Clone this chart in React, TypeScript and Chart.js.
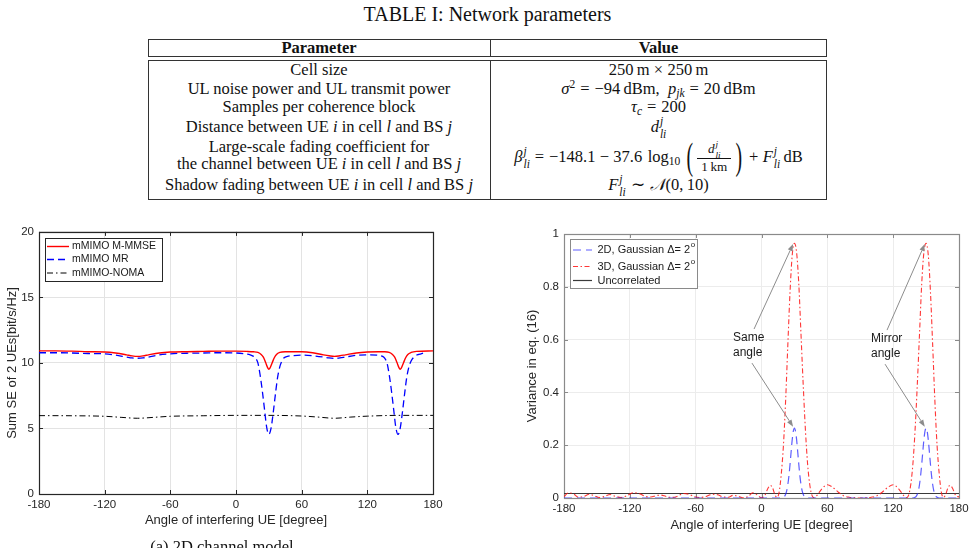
import React, { useEffect, useRef } from 'react';
import { Chart, registerables } from 'chart.js';

Chart.register(...registerables);

const SANS = '"Liberation Sans", Arial, Helvetica, sans-serif';
const SERIF = '"Liberation Serif", "Times New Roman", Times, serif';

// ---------- (a) Sum SE of 2 UEs versus angle of the interfering UE ----------
const mmseAngles = [-180, -165, -150, -135, -120, -110, -100, -95, -90, -85, -80, -70, -60, -45, -30, -15, 0, 10, 16, 20, 23, 25, 27, 29, 30, 31, 33, 35, 37, 40, 45, 60, 70, 80, 85, 90, 95, 100, 110, 120, 130, 136, 140, 143, 145, 147, 149, 150, 151, 153, 155, 157, 160, 165, 180];
const mmseSE = [10.92, 10.92, 10.9, 10.86, 10.84, 10.76, 10.62, 10.54, 10.5, 10.54, 10.62, 10.76, 10.83, 10.86, 10.88, 10.9, 10.9, 10.88, 10.85, 10.8, 10.65, 10.45, 10.05, 9.62, 9.52, 9.6, 10.0, 10.4, 10.65, 10.8, 10.85, 10.85, 10.78, 10.62, 10.55, 10.5, 10.55, 10.62, 10.76, 10.83, 10.85, 10.85, 10.8, 10.65, 10.45, 10.05, 9.62, 9.52, 9.6, 10.0, 10.4, 10.65, 10.8, 10.88, 10.92];

const mrAngles = [-180, -165, -150, -135, -120, -110, -100, -95, -90, -85, -80, -70, -60, -45, -30, -15, 0, 8, 13, 16, 18, 20, 22, 24, 26, 28, 30, 32, 34, 36, 38, 40, 42, 44, 47, 52, 60, 70, 80, 85, 90, 95, 100, 110, 120, 130, 134, 136, 138, 140, 142, 144, 146, 148, 150, 152, 154, 156, 158, 160, 162, 164, 167, 172, 180];
const mrSE = [10.78, 10.78, 10.76, 10.72, 10.7, 10.6, 10.45, 10.38, 10.36, 10.38, 10.45, 10.62, 10.7, 10.74, 10.76, 10.78, 10.76, 10.7, 10.62, 10.5, 10.35, 10.0, 9.1, 7.9, 6.5, 5.1, 4.55, 5.0, 6.2, 7.6, 8.9, 9.7, 10.15, 10.4, 10.5, 10.56, 10.6, 10.55, 10.45, 10.38, 10.35, 10.38, 10.45, 10.58, 10.62, 10.58, 10.5, 10.35, 10.0, 9.1, 7.9, 6.5, 5.1, 4.55, 5.0, 6.2, 7.6, 8.9, 9.7, 10.15, 10.4, 10.55, 10.65, 10.78];

const nomaAngles = [-180, -150, -120, -105, -90, -75, -60, -30, 0, 30, 60, 75, 90, 105, 120, 150, 180];
const nomaSE = [5.98, 5.97, 5.93, 5.85, 5.78, 5.85, 5.93, 5.97, 6.0, 6.0, 5.95, 5.87, 5.78, 5.87, 5.94, 6.0, 6.0];

const seYTicks = [0, 5, 10, 15, 20];
const angleTicks = [-180, -120, -60, 0, 60, 120, 180];

// ---------- (b) Variance in eq. (16) versus angle of the interfering UE ----------
const var2DAngles = [-180, 18, 20, 21, 22, 23, 24, 25, 26, 27, 28, 29, 30, 31, 32, 33, 34, 35, 36, 37, 38, 39, 40, 42, 138, 140, 141, 142, 143, 144, 145, 146, 147, 148, 149, 150, 151, 152, 153, 154, 155, 156, 157, 158, 159, 160, 162, 180];
const var2D = [0, 0, 0.003, 0.006, 0.014, 0.028, 0.051, 0.084, 0.127, 0.175, 0.221, 0.253, 0.265, 0.253, 0.221, 0.175, 0.127, 0.084, 0.051, 0.028, 0.014, 0.006, 0.003, 0, 0, 0.003, 0.006, 0.014, 0.028, 0.051, 0.084, 0.127, 0.175, 0.221, 0.253, 0.265, 0.253, 0.221, 0.175, 0.127, 0.084, 0.051, 0.028, 0.014, 0.006, 0.003, 0, 0];

const var3DAngles = [-180, -176, -171, -167, -162, -157, -152, -148, -143, -138, -133, -128, -123, -117, -111, -106, -101, -96, -92, -87, -82, -77, -71, -66, -61, -56, -51, -45, -40, -35, -30, -26, -21, -17, -12, -8, -4, 0, 3, 6, 8, 10, 12, 14, 16, 18, 20, 22, 24, 26, 28, 30, 32, 34, 36, 38, 40, 42, 44, 46, 48, 51, 55, 60, 65, 70, 75, 80, 85, 90, 95, 100, 105, 110, 115, 120, 125, 129, 132, 134, 136, 138, 140, 142, 144, 146, 148, 150, 152, 154, 156, 158, 160, 162, 164, 166, 168, 170, 172, 174, 177, 180];
const var3D = [0.006, 0.019, 0.015, 0.003, 0.006, 0.014, 0.008, 0.002, 0.006, 0.013, 0.006, 0.002, 0.008, 0.02, 0.016, 0.006, 0.004, 0.009, 0.011, 0.006, 0.002, 0.006, 0.017, 0.014, 0.005, 0.002, 0.005, 0.014, 0.012, 0.004, 0.003, 0.01, 0.006, 0.001, 0.006, 0.02, 0.012, 0.001, 0.01, 0.038, 0.048, 0.04, 0.015, 0.002, 0.02, 0.09, 0.2, 0.37, 0.58, 0.78, 0.92, 0.965, 0.93, 0.81, 0.62, 0.43, 0.26, 0.13, 0.05, 0.01, 0.001, 0.012, 0.035, 0.05, 0.04, 0.022, 0.008, 0.003, 0.001, 0.0, 0.001, 0.003, 0.008, 0.022, 0.04, 0.05, 0.035, 0.012, 0.001, 0.01, 0.05, 0.13, 0.26, 0.43, 0.62, 0.81, 0.93, 0.965, 0.92, 0.78, 0.58, 0.37, 0.2, 0.09, 0.02, 0.002, 0.015, 0.04, 0.048, 0.038, 0.01, 0.004];

const uncorrelatedAngles = [-180, 180];
const uncorrelated = [0.017, 0.017];

const varYTicks = [0, 0.2, 0.4, 0.6, 0.8, 1];

// Callout labels and arrows, in data coordinates
const calloutTexts = [
  { lines: ['Same', 'angle'], x: -26, y: 0.606 },
  { lines: ['Mirror', 'angle'], x: 99.8, y: 0.602 },
];
const calloutArrows = [
  { from: [-6.8, 0.64], to: [28.8, 0.962] },
  { from: [-8.7, 0.511], to: [28.8, 0.27] },
  { from: [114.4, 0.636], to: [148.8, 0.962] },
  { from: [112.6, 0.507], to: [148.8, 0.27] },
];

const pairs = (xs: number[], ys: number[]) => xs.map((x, i) => ({ x, y: ys[i] }));

type LegendSpec = {
  dx: number; dy: number; w: number; h: number;
  rows: number[]; lineX0: number; lineX1: number; textX: number;
  font: number; border: string; sups?: string[];
};

// Boxed legend drawn inside the plot area
function boxLegend(spec: LegendSpec) {
  return {
    id: 'boxLegend',
    afterDatasetsDraw(chart: any) {
      const { ctx, chartArea } = chart;
      const x0 = Math.round(chartArea.left + spec.dx);
      const y0 = Math.round(chartArea.top + spec.dy);
      ctx.save();
      ctx.fillStyle = '#ffffff';
      ctx.fillRect(x0, y0, spec.w, spec.h);
      ctx.strokeStyle = spec.border;
      ctx.lineWidth = 1;
      ctx.setLineDash([]);
      ctx.strokeRect(x0 + 0.5, y0 + 0.5, spec.w, spec.h);
      chart.data.datasets.forEach((ds: any, i: number) => {
        const y = y0 + spec.rows[i];
        ctx.strokeStyle = ds.borderColor;
        ctx.lineWidth = ds.borderWidth;
        ctx.setLineDash(ds.borderDash || []);
        ctx.beginPath();
        ctx.moveTo(x0 + spec.lineX0, y);
        ctx.lineTo(x0 + spec.lineX1, y);
        ctx.stroke();
        ctx.setLineDash([]);
        ctx.fillStyle = '#1a1a1a';
        ctx.font = `${spec.font}px ${SANS}`;
        ctx.textBaseline = 'middle';
        ctx.textAlign = 'left';
        ctx.fillText(ds.label, x0 + spec.textX, y);
        const sup = spec.sups && spec.sups[i];
        if (sup) {
          const w = ctx.measureText(ds.label).width;
          ctx.font = `${spec.font * 0.72}px ${SANS}`;
          ctx.fillText(sup, x0 + spec.textX + w + 0.5, y - 5);
        }
      });
      ctx.restore();
    },
  };
}

// Axes box with inward tick marks on all four sides
function axesFrame(color: string, tickLen: number) {
  return {
    id: 'axesFrame',
    beforeDatasetsDraw(chart: any) {
      const { ctx, chartArea: a, scales } = chart;
      ctx.save();
      ctx.strokeStyle = color;
      ctx.lineWidth = 1;
      ctx.setLineDash([]);
      ctx.beginPath();
      scales.x.ticks.forEach((t: any) => {
        const px = Math.round(scales.x.getPixelForValue(t.value)) + 0.5;
        ctx.moveTo(px, a.bottom);
        ctx.lineTo(px, a.bottom - tickLen);
        ctx.moveTo(px, a.top);
        ctx.lineTo(px, a.top + tickLen);
      });
      scales.y.ticks.forEach((t: any) => {
        const py = Math.round(scales.y.getPixelForValue(t.value)) + 0.5;
        ctx.moveTo(a.left, py);
        ctx.lineTo(a.left + tickLen, py);
        ctx.moveTo(a.right, py);
        ctx.lineTo(a.right - tickLen, py);
      });
      ctx.stroke();
      ctx.lineWidth = 1.2;
      ctx.strokeRect(Math.round(a.left) + 0.5, Math.round(a.top) + 0.5, Math.round(a.right - a.left), Math.round(a.bottom - a.top));
      ctx.restore();
    },
  };
}

// Text callouts with arrows pointing at the peaks
const callouts = {
  id: 'callouts',
  afterDatasetsDraw(chart: any) {
    const { ctx, scales } = chart;
    const X = (v: number) => scales.x.getPixelForValue(v);
    const Y = (v: number) => scales.y.getPixelForValue(v);
    ctx.save();
    ctx.fillStyle = '#1a1a1a';
    ctx.font = `12px ${SANS}`;
    ctx.textAlign = 'left';
    ctx.textBaseline = 'middle';
    calloutTexts.forEach((c) => {
      c.lines.forEach((ln, k) => ctx.fillText(ln, X(c.x), Y(c.y) + k * 15));
    });
    ctx.strokeStyle = '#8c8c8c';
    ctx.fillStyle = '#8c8c8c';
    ctx.lineWidth = 1;
    calloutArrows.forEach((ar) => {
      const x1 = X(ar.from[0]), y1 = Y(ar.from[1]);
      const x2 = X(ar.to[0]), y2 = Y(ar.to[1]);
      const ang = Math.atan2(y2 - y1, x2 - x1);
      const hl = 7, hw = 2.6;
      const bx = x2 - hl * Math.cos(ang), by = y2 - hl * Math.sin(ang);
      ctx.beginPath();
      ctx.moveTo(x1, y1);
      ctx.lineTo(bx, by);
      ctx.stroke();
      ctx.beginPath();
      ctx.moveTo(x2, y2);
      ctx.lineTo(bx + hw * Math.sin(ang), by - hw * Math.cos(ang));
      ctx.lineTo(bx - hw * Math.sin(ang), by + hw * Math.cos(ang));
      ctx.closePath();
      ctx.fill();
    });
    ctx.restore();
  },
};

const tickFont = { family: SANS, size: 11.5 };
const titleFont = { family: SANS, size: 13 };

function seChart(): any {
  return {
    type: 'line',
    data: {
      datasets: [
        { label: 'mMIMO M-MMSE', data: pairs(mmseAngles, mmseSE), borderColor: '#ff0000', borderWidth: 1.4, borderDash: [] },
        { label: 'mMIMO MR', data: pairs(mrAngles, mrSE), borderColor: '#0000ff', borderWidth: 1.3, borderDash: [7, 4] },
        { label: 'mMIMO-NOMA', data: pairs(nomaAngles, nomaSE), borderColor: '#000000', borderWidth: 1, borderDash: [6, 3, 1.5, 3] },
      ],
    },
    options: {
      responsive: false,
      animation: false,
      layout: { padding: { top: 11, right: 17, left: 0, bottom: 0 } },
      elements: { point: { radius: 0 }, line: { cubicInterpolationMode: 'monotone', fill: false } },
      plugins: { legend: { display: false }, tooltip: { enabled: false } },
      scales: {
        x: {
          type: 'linear', min: -180, max: 180,
          afterBuildTicks: (s: any) => { s.ticks = angleTicks.map((v) => ({ value: v })); },
          afterFit: (s: any) => { s.height = 46; },
          ticks: { color: '#262626', font: tickFont, padding: 4, maxRotation: 0, autoSkip: false },
          grid: { color: '#e3e3e3', drawTicks: false },
          border: { display: false },
          title: { display: true, text: 'Angle of interfering UE [degree]', color: '#262626', font: titleFont, padding: { top: 0, bottom: 12 } },
        },
        y: {
          type: 'linear', min: 0, max: 20,
          afterBuildTicks: (s: any) => { s.ticks = seYTicks.map((v) => ({ value: v })); },
          afterFit: (s: any) => { s.width = 39; },
          ticks: { color: '#262626', font: tickFont, padding: 5 },
          grid: { color: '#e3e3e3', drawTicks: false },
          border: { display: false },
          title: { display: true, text: 'Sum SE of 2 UEs[bit/s/Hz]', color: '#262626', font: titleFont, padding: { top: 5, bottom: 0 } },
        },
      },
    },
    plugins: [
      axesFrame('#262626', 4),
      boxLegend({ dx: 6, dy: 6, w: 117, h: 43, rows: [8.5, 21.5, 35], lineX0: 2, lineX1: 24, textX: 27, font: 10.5, border: '#262626' }),
    ],
  };
}

function varianceChart(): any {
  return {
    type: 'line',
    data: {
      datasets: [
        { label: '2D, Gaussian \u0394= 2', data: pairs(var2DAngles, var2D), borderColor: 'rgba(40,40,255,0.75)', borderWidth: 1.2, borderDash: [8, 5] },
        { label: '3D, Gaussian \u0394= 2', data: pairs(var3DAngles, var3D), borderColor: 'rgba(255,20,20,0.85)', borderWidth: 1.1, borderDash: [5, 2.5, 1.5, 2.5] },
        { label: 'Uncorrelated', data: pairs(uncorrelatedAngles, uncorrelated), borderColor: '#3a3a3a', borderWidth: 1.2, borderDash: [] },
      ],
    },
    options: {
      responsive: false,
      animation: false,
      layout: { padding: { top: 14, right: 16, left: 0, bottom: 0 } },
      elements: { point: { radius: 0 }, line: { cubicInterpolationMode: 'monotone', fill: false } },
      plugins: { legend: { display: false }, tooltip: { enabled: false } },
      scales: {
        x: {
          type: 'linear', min: -180, max: 180,
          afterBuildTicks: (s: any) => { s.ticks = angleTicks.map((v) => ({ value: v })); },
          afterFit: (s: any) => { s.height = 42; },
          ticks: { color: '#262626', font: tickFont, padding: 4, maxRotation: 0, autoSkip: false },
          grid: { color: '#ececec', drawTicks: false },
          border: { display: false },
          title: { display: true, text: 'Angle of interfering UE [degree]', color: '#262626', font: titleFont, padding: { top: 0, bottom: 7 } },
        },
        y: {
          type: 'linear', min: 0, max: 1,
          afterBuildTicks: (s: any) => { s.ticks = varYTicks.map((v) => ({ value: v })); },
          afterFit: (s: any) => { s.width = 64; },
          ticks: { color: '#262626', font: tickFont, padding: 5, callback: (v: any) => String(Math.round(v * 10) / 10) },
          grid: { color: '#ececec', drawTicks: false },
          border: { display: false },
          title: { display: true, text: 'Variance in eq. (16)', color: '#262626', font: titleFont, padding: { top: 25, bottom: 0 } },
        },
      },
    },
    plugins: [
      axesFrame('#8a8a8a', 4),
      callouts,
      boxLegend({ dx: 6, dy: 5, w: 127, h: 49, rows: [11, 27.5, 41.5], lineX0: 3, lineX1: 22, textX: 27.5, font: 11, border: '#8a8a8a', sups: ['o', 'o', ''] }),
    ],
  };
}

function ChartCanvas({ left, top, width, height, build }: { left: number; top: number; width: number; height: number; build: () => any }) {
  const ref = useRef<HTMLCanvasElement>(null);
  useEffect(() => {
    const chart = new Chart(ref.current as HTMLCanvasElement, build());
    return () => chart.destroy();
  }, []);
  return <canvas ref={ref} width={width} height={height} style={{ position: 'absolute', left, top, width, height }} />;
}

// ---------- Table I ----------
// Stacked superscript / subscript pair (e.g. the j and li of d^j_li)
function SS({ sup, sub }: { sup: string; sub: string }) {
  return (
    <span style={{ display: 'inline-flex', flexDirection: 'column', verticalAlign: 'middle', fontSize: '0.7em', lineHeight: 1, margin: '-10px 0 -10px 1px', textAlign: 'left' }}>
      <i style={{ position: 'relative', top: -1 }}>{sup}</i>
      <i style={{ position: 'relative', top: 1 }}>{sub}</i>
    </span>
  );
}

const Sup = ({ children }: { children: React.ReactNode }) => (
  <span style={{ fontSize: '0.7em', verticalAlign: '0.5em', lineHeight: 0 }}>{children}</span>
);
const Sub = ({ children }: { children: React.ReactNode }) => (
  <span style={{ fontSize: '0.7em', verticalAlign: '-0.3em', lineHeight: 0 }}>{children}</span>
);
const Rel = ({ c }: { c: string }) => <span style={{ margin: '0 0.3em' }}>{c}</span>;
const Bin = ({ c }: { c: string }) => <span style={{ margin: '0 0.26em' }}>{c}</span>;

function Frac({ num, den }: { num: React.ReactNode; den: React.ReactNode }) {
  return (
    <span style={{ display: 'inline-flex', flexDirection: 'column', alignItems: 'center', verticalAlign: 'middle', fontSize: '0.8em', lineHeight: 1.05, margin: '-12px 4px' }}>
      <span style={{ padding: '0 2px 2px' }}>{num}</span>
      <span style={{ borderTop: '1px solid #111', padding: '1px 2px 0', width: '100%', textAlign: 'center' }}>{den}</span>
    </span>
  );
}

const BigParen = ({ c }: { c: string }) => (
  <span style={{ display: 'inline-block', transform: 'scale(1.2, 2.3)', margin: '0 3px', fontWeight: 300 }}>{c}</span>
);

const L = 148, MID = 490, R = 827;

function Row({ y, left, right }: { y: number; left?: React.ReactNode; right?: React.ReactNode }) {
  const base: React.CSSProperties = { position: 'absolute', top: y - 10, height: 20, lineHeight: '20px', textAlign: 'center', whiteSpace: 'nowrap' };
  return (
    <>
      {left !== undefined && <div style={{ ...base, left: L, width: MID - L }}>{left}</div>}
      {right !== undefined && <div style={{ ...base, left: MID, width: R - MID }}>{right}</div>}
    </>
  );
}

function ParamTable() {
  const line = '#333';
  return (
    <div style={{ position: 'absolute', left: 0, top: 0, width: 975, height: 210, fontFamily: SERIF, fontSize: 16.5, color: '#111' }}>
      <div style={{ position: 'absolute', left: 0, top: 3, width: 975, textAlign: 'center', fontSize: 20, lineHeight: '22px' }}>TABLE I: Network parameters</div>
      <div style={{ position: 'absolute', left: L, top: 39, width: R - L, height: 18, border: `1px solid ${line}`, boxSizing: 'border-box' }} />
      <div style={{ position: 'absolute', left: MID, top: 39, width: 1, height: 18, background: line }} />
      <div style={{ position: 'absolute', left: L, top: 60, width: R - L, height: 140, border: `1px solid ${line}`, boxSizing: 'border-box' }} />
      <div style={{ position: 'absolute', left: MID, top: 60, width: 1, height: 140, background: line }} />
      <Row y={48} left={<b>Parameter</b>} right={<b>Value</b>} />
      <Row y={70} left="Cell size" right={<>250{'\u2009'}m<Bin c={'\u00d7'} />250{'\u2009'}m</>} />
      <Row y={89} left="UL noise power and UL transmit power" right={<><i>σ</i><Sup>2</Sup><Rel c="=" />−94{'\u2009'}dBm,{'\u2002'}<i>p</i><Sub><i>jk</i></Sub><Rel c="=" />20{'\u2009'}dBm</>} />
      <Row y={107} left="Samples per coherence block" right={<><i>τ</i><Sub><i>c</i></Sub><Rel c="=" />200</>} />
      <Row y={127} left={<>Distance between UE <i>i</i> in cell <i>l</i> and BS <i>j</i></>} right={<><i>d</i><SS sup="j" sub="li" /></>} />
      <Row y={147} left="Large-scale fading coefficient for" />
      <Row y={164} left={<>the channel between UE <i>i</i> in cell <i>l</i> and BS <i>j</i></>} />
      <Row
        y={157}
        right={
          <>
            <i>β</i><SS sup="j" sub="li" /><Rel c="=" />−148.1<Bin c="−" />37.6{'\u2004'}log<Sub>10</Sub>{'\u2009'}
            <BigParen c="(" />
            <Frac num={<><i>d</i><SS sup="j" sub="li" /></>} den={<>1{'\u2009'}km</>} />
            <BigParen c=")" /><Bin c="+" /><i>F</i><SS sup="j" sub="li" />{'\u2009'}dB
          </>
        }
      />
      <Row y={185} left={<>Shadow fading between UE <i>i</i> in cell <i>l</i> and BS <i>j</i></>} right={<><i>F</i><SS sup="j" sub="li" /><Rel c="∼" /><span style={{ fontFamily: '"DejaVu Serif", serif', fontStyle: 'italic' }}>𝒩</span>(0,{'\u2009'}10)</>} />
    </div>
  );
}

export default function App() {
  return (
    <div style={{ position: 'fixed', left: 0, top: 0, width: 975, height: 548, overflow: 'hidden', background: '#ffffff' }}>
      <ParamTable />
      <ChartCanvas left={0} top={220} width={450} height={320} build={seChart} />
      <ChartCanvas left={500} top={220} width={475} height={320} build={varianceChart} />
      <div style={{ position: 'absolute', left: 0, top: 537, width: 444, textAlign: 'center', fontFamily: SERIF, fontSize: 16.5, lineHeight: '20px', color: '#111' }}>(a) 2D channel model</div>
    </div>
  );
}
